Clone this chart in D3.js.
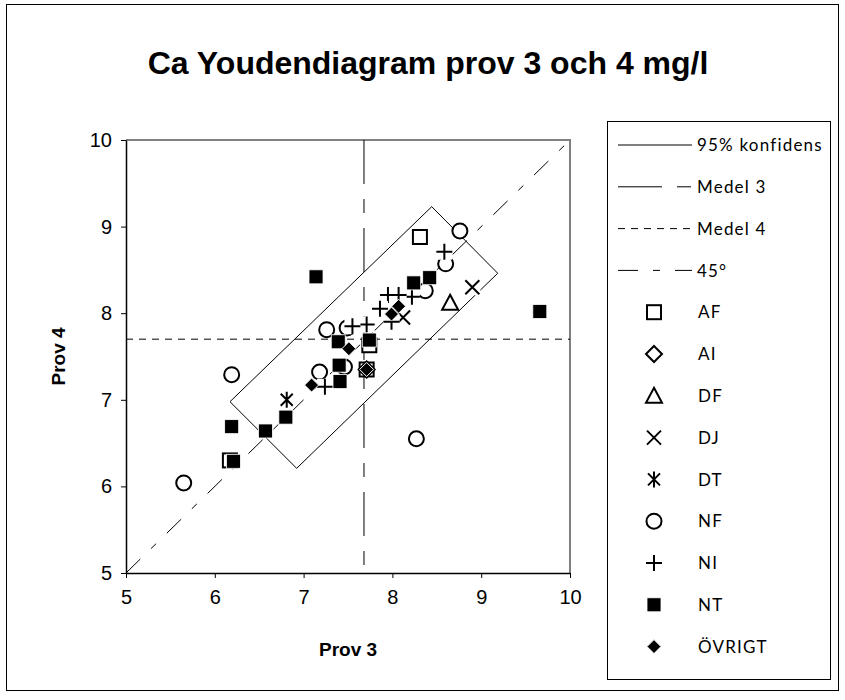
<!DOCTYPE html>
<html>
<head>
<meta charset="utf-8">
<script src="https://cdn.jsdelivr.net/npm/d3@7"></script>
<style>
  html, body { margin: 0; padding: 0; background: #fff; }
  svg { display: block; }
</style>
</head>
<body>
<svg id="chart" width="845" height="700"></svg>
<script>
// Youden plot: sample 3 vs sample 4, Ca (mg/l)
const titleText = "Ca Youdendiagram prov 3 och 4 mg/l";
const xTitle = "Prov 3";
const yTitle = "Prov 4";
const xTicks = [5, 6, 7, 8, 9, 10];
const yTicks = [5, 6, 7, 8, 9, 10];

// Means of the two samples
const mean3 = 7.68;
const mean4 = 7.70;

// 95 % confidence rectangle (corner points, closed path)
const confX = [8.443, 9.186, 6.922, 6.171, 8.443];
const confY = [9.230, 8.461, 6.209, 6.978, 9.230];

// 45 degree reference line
const diagX = [5, 10];
const diagY = [5, 10];

// Laboratory groups
const seriesNames = ["AF", "AI", "DF", "DJ", "DT", "NF", "NI", "NT", "ÖVRIGT"];
const seriesShapes = ["square", "diamond", "triangle", "x", "star", "circle", "plus", "squareFilled", "diamondFilled"];

const AF_x = [8.31, 7.71, 6.17, 7.74];
const AF_y = [8.88, 7.35, 6.30, 7.63];
const AI_x = [7.71];
const AI_y = [7.35];
const DF_x = [8.65];
const DF_y = [8.12];
const DJ_x = [8.90, 8.12];
const DJ_y = [8.30, 7.95];
const DT_x = [6.81];
const DT_y = [7.00];
const NF_x = [8.76, 6.19, 5.65, 8.27, 7.26, 7.49, 7.18, 8.60, 8.37, 7.46];
const NF_y = [8.95, 7.29, 6.04, 6.55, 7.81, 7.83, 7.32, 8.57, 8.26, 7.38];
const NI_x = [8.585, 8.22, 8.07, 7.95, 7.99, 7.71, 7.24, 7.86, 7.55];
const NI_y = [8.71, 8.19, 8.21, 8.21, 7.90, 7.87, 7.15, 8.05, 7.85];
const NT_x = [7.14, 6.19, 6.57, 6.80, 6.21, 8.24, 8.42, 9.66, 7.39, 7.74, 7.40, 7.41];
const NT_y = [8.42, 6.69, 6.64, 6.80, 6.29, 8.35, 8.41, 8.02, 7.67, 7.69, 7.40, 7.21];
const OV_x = [7.09, 7.51, 7.71, 8.07, 7.99];
const OV_y = [7.17, 7.59, 7.35, 8.08, 7.99];

const seriesX = [AF_x, AI_x, DF_x, DJ_x, DT_x, NF_x, NI_x, NT_x, OV_x];
const seriesY = [AF_y, AI_y, DF_y, DJ_y, DT_y, NF_y, NI_y, NT_y, OV_y];

const lineLegend = ["95% konfidens", "Medel 3", "Medel 4", "45°"];

const svg = d3.select("#chart");

// outer frame
svg.append("rect")
  .attr("x", 6.5).attr("y", 4.5).attr("width", 832).attr("height", 686)
  .attr("fill", "#fff").attr("stroke", "#000").attr("stroke-width", 1);

// title
svg.append("text")
  .attr("x", 428).attr("y", 74)
  .attr("text-anchor", "middle")
  .attr("font-family", "Liberation Sans, Arial, sans-serif")
  .attr("font-weight", "bold")
  .attr("font-size", 32)
  .text(titleText);

const plot = { left: 126, right: 570, top: 140, bottom: 573 };
const x = d3.scaleLinear().domain([5, 10]).range([plot.left, plot.right]);
const y = d3.scaleLinear().domain([5, 10]).range([plot.bottom, plot.top]);

// plot area frame (top / right in grey)
svg.append("path")
  .attr("d", `M${plot.left},${plot.top}H${plot.right}V${plot.bottom}`)
  .attr("fill", "none").attr("stroke", "#808080").attr("stroke-width", 2);

const g = svg.append("g");

// axes
const xAxis = d3.axisBottom(x).tickValues(xTicks).tickSize(5).tickSizeOuter(0).tickFormat(d3.format("d"));
const yAxis = d3.axisLeft(y).tickValues(yTicks).tickSize(5).tickSizeOuter(0).tickFormat(d3.format("d"));

const gx = svg.append("g").attr("transform", `translate(0,${plot.bottom})`).call(xAxis);
const gy = svg.append("g").attr("transform", `translate(${plot.left},0)`).call(yAxis);
[gx, gy].forEach(a => {
  a.select(".domain").attr("stroke", "#000").attr("stroke-width", 1.5);
  a.selectAll(".tick line").attr("stroke", "#000").attr("stroke-width", 1);
  a.selectAll(".tick text")
    .attr("font-family", "Liberation Sans, Arial, sans-serif")
    .attr("font-size", 20).attr("fill", "#000");
});
gx.selectAll(".tick text").attr("dy", "1.15em");
gy.selectAll(".tick text").attr("dx", "-0.3em");

// axis titles
svg.append("text")
  .attr("x", (plot.left + plot.right) / 2).attr("y", 656)
  .attr("text-anchor", "middle")
  .attr("font-family", "Liberation Sans, Arial, sans-serif")
  .attr("font-weight", "bold").attr("font-size", 19)
  .text(xTitle);
svg.append("text")
  .attr("transform", `translate(65,${(plot.top + plot.bottom) / 2}) rotate(-90)`)
  .attr("text-anchor", "middle")
  .attr("font-family", "Liberation Sans, Arial, sans-serif")
  .attr("font-weight", "bold").attr("font-size", 19)
  .text(yTitle);

// reference lines
const lineStyles = [
  { dash: null },
  { dash: "44,15,14,15" },
  { dash: "7,6" },
  { dash: "20,15,7,15" }
];

const line = d3.line().x(d => x(d[0])).y(d => y(d[1]));

g.append("path")
  .datum(d3.zip(diagX, diagY))
  .attr("d", line)
  .attr("fill", "none").attr("stroke", "#000").attr("stroke-width", 1)
  .attr("stroke-dasharray", lineStyles[3].dash);

g.append("path")
  .datum(d3.zip(confX, confY))
  .attr("d", line)
  .attr("fill", "none").attr("stroke", "#000").attr("stroke-width", 1);

g.append("line")
  .attr("x1", x(mean3)).attr("x2", x(mean3))
  .attr("y1", y(10)).attr("y2", y(5))
  .attr("stroke", "#000").attr("stroke-width", 1)
  .attr("stroke-dasharray", lineStyles[1].dash);

g.append("line")
  .attr("x1", x(5)).attr("x2", x(10))
  .attr("y1", y(mean4)).attr("y2", y(mean4))
  .attr("stroke", "#000").attr("stroke-width", 1)
  .attr("stroke-dasharray", lineStyles[2].dash);

// marker drawing
function drawMarker(sel, shape) {
  const s = 8; // half size of hollow markers
  switch (shape) {
    case "square":
      sel.append("rect").attr("x", -s + 1).attr("y", -s + 1).attr("width", 2 * s - 2).attr("height", 2 * s - 2)
        .attr("fill", "#fff").attr("stroke", "#000").attr("stroke-width", 2);
      break;
    case "diamond":
      sel.append("path").attr("d", `M0,${-s}L${s},0L0,${s}L${-s},0Z`)
        .attr("fill", "#fff").attr("stroke", "#000").attr("stroke-width", 2);
      break;
    case "triangle":
      sel.append("path").attr("d", `M0,${-s}L${s},${s - 1}L${-s},${s - 1}Z`)
        .attr("fill", "#fff").attr("stroke", "#000").attr("stroke-width", 2);
      break;
    case "circle":
      sel.append("circle").attr("r", s - 0.5)
        .attr("fill", "#fff").attr("stroke", "#000").attr("stroke-width", 2);
      break;
    case "x":
      sel.append("rect").attr("x", -s).attr("y", -s).attr("width", 2 * s).attr("height", 2 * s).attr("fill", "#fff");
      sel.append("path").attr("d", `M${-s + 1},${-s + 1}L${s - 1},${s - 1}M${s - 1},${-s + 1}L${-s + 1},${s - 1}`)
        .attr("stroke", "#000").attr("stroke-width", 2);
      break;
    case "star":
      sel.append("rect").attr("x", -s).attr("y", -s).attr("width", 2 * s).attr("height", 2 * s).attr("fill", "#fff");
      sel.append("path").attr("d", `M${-s + 2},${-s + 2}L${s - 2},${s - 2}M${s - 2},${-s + 2}L${-s + 2},${s - 2}M0,${-s}L0,${s}`)
        .attr("stroke", "#000").attr("stroke-width", 2);
      break;
    case "plus":
      sel.append("rect").attr("x", -s).attr("y", -s).attr("width", 2 * s).attr("height", 2 * s).attr("fill", "#fff");
      sel.append("path").attr("d", `M${-s},0L${s},0M0,${-s}L0,${s}`)
        .attr("stroke", "#000").attr("stroke-width", 2);
      break;
    case "squareFilled":
      sel.append("rect").attr("x", -7).attr("y", -7).attr("width", 14).attr("height", 14)
        .attr("fill", "#000").attr("stroke", "#fff").attr("stroke-width", 0.8);
      break;
    case "diamondFilled":
      sel.append("path").attr("d", "M0,-7L7,0L0,7L-7,0Z")
        .attr("fill", "#000").attr("stroke", "#fff").attr("stroke-width", 1);
      break;
  }
}

const markers = g.append("g");
seriesNames.forEach((name, i) => {
  const pts = d3.zip(seriesX[i], seriesY[i]);
  markers.selectAll(null)
    .data(pts)
    .join("g")
    .attr("transform", d => `translate(${x(d[0])},${y(d[1])})`)
    .each(function () { drawMarker(d3.select(this), seriesShapes[i]); });
});

// legend
const leg = svg.append("g");
leg.append("rect")
  .attr("x", 607.5).attr("y", 121.5).attr("width", 223).attr("height", 558)
  .attr("fill", "#fff").attr("stroke", "#000").attr("stroke-width", 1);

const rowY0 = 145, rowStep = 41.8;
const legFont = "Lato, 'Open Sans', sans-serif";

lineLegend.forEach((label, i) => {
  const yy = rowY0 + i * rowStep;
  leg.append("line")
    .attr("x1", 618).attr("x2", 692).attr("y1", yy).attr("y2", yy)
    .attr("stroke", "#000").attr("stroke-width", 1)
    .attr("stroke-dasharray", lineStyles[i].dash);
  leg.append("text")
    .attr("x", 697).attr("y", yy).attr("dy", "0.36em")
    .attr("font-family", legFont).attr("font-size", 17)
    .attr("letter-spacing", 1.2)
    .text(label);
});

seriesNames.forEach((name, i) => {
  const yy = rowY0 + (i + lineLegend.length) * rowStep;
  const m = leg.append("g").attr("transform", `translate(654,${yy})`);
  drawMarker(m, seriesShapes[i]);
  leg.append("text")
    .attr("x", 698).attr("y", yy).attr("dy", "0.36em")
    .attr("font-family", legFont).attr("font-size", 17)
    .attr("letter-spacing", 1.2)
    .text(name);
});
</script>
</body>
</html>
